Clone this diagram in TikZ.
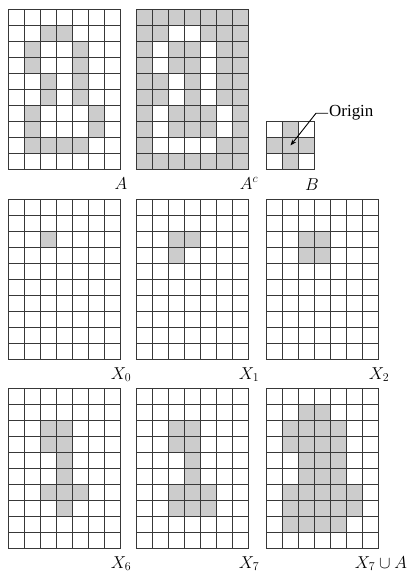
\documentclass[tikz,border=0pt]{standalone}
\usepackage{fontspec}
\setmainfont{Liberation Serif}
\usetikzlibrary{arrows.meta}
\tikzset{
  gridline/.style={draw=black!78, line width=1.4bp},
  lab/.style={anchor=base, inner sep=0pt, font=\fontsize{17}{19}\selectfont},
}
\newcommand\mygrid[7]{% x y cols rows base-color cell-color list
  \begin{scope}[shift={(#1,#2)}]
    \fill[#5] (0,0) rectangle (#3*16,#4*16);
    \foreach \c/\r in {#7} {\fill[#6] (\c*16,\r*16) rectangle ++(16,16);}
    \foreach \i in {0,...,#3} \draw[gridline] (\i*16,0) -- (\i*16,#4*16);
    \foreach \j in {0,...,#4} \draw[gridline] (0,\j*16) -- (#3*16,\j*16);
    \draw[gridline, line cap=rect] (0,0) rectangle (#3*16,#4*16);
  \end{scope}}
\begin{document}
\begin{tikzpicture}[x=1bp,y=-1bp]
\useasboundingbox (0,0) rectangle (408,575);
% row 1
\mygrid{8.5}{9.5}{7}{10}{white}{gray!40}{2/1,3/1,1/2,4/2,1/3,4/3,2/4,4/4,2/5,4/5,1/6,5/6,1/7,5/7,1/8,2/8,3/8,4/8}
\mygrid{136.5}{9.5}{7}{10}{gray!40}{white}{2/1,3/1,1/2,4/2,1/3,4/3,2/4,4/4,2/5,4/5,1/6,5/6,1/7,5/7,1/8,2/8,3/8,4/8}
\mygrid{266.5}{121.5}{3}{3}{white}{gray!40}{1/0,0/1,1/1,2/1,1/2}
\node[lab] (lA) at (121,189) {$A$};
\node[lab] (lAc) at (249,189) {$A^c$};
\node[lab] (lB) at (312,190) {$B$};
\node[anchor=base west, inner sep=1pt, font=\fontsize{17}{19}\selectfont] (origin) at (328,117) {Origin};
\coordinate (bc) at (290.5,145.5);
\draw[line width=0.9pt, -{Stealth[length=6pt,width=4.5pt]}] (origin.west) -- ++(-12,0) -- (bc);
% row 2
\mygrid{8.5}{199.5}{7}{10}{white}{gray!40}{2/2}
\mygrid{136.5}{199.5}{7}{10}{white}{gray!40}{2/2,3/2,2/3}
\mygrid{266.5}{199.5}{7}{10}{white}{gray!40}{2/2,3/2,2/3,3/3}
\node[lab] (lX0) at (121,379) {$X_0$};
\node[lab] (lX1) at (249,379) {$X_1$};
\node[lab] (lX2) at (379,379) {$X_2$};
% row 3
\mygrid{8.5}{388.5}{7}{10}{white}{gray!40}{2/2,3/2,2/3,3/3,3/4,3/5,2/6,3/6,4/6,3/7}
\mygrid{136.5}{388.5}{7}{10}{white}{gray!40}{2/2,3/2,2/3,3/3,3/4,3/5,2/6,3/6,4/6,2/7,3/7,4/7}
\mygrid{266.5}{388.5}{7}{10}{white}{gray!40}{2/1,3/1,1/2,2/2,3/2,4/2,1/3,2/3,3/3,4/3,2/4,3/4,4/4,2/5,3/5,4/5,1/6,2/6,3/6,4/6,5/6,1/7,2/7,3/7,4/7,5/7,1/8,2/8,3/8,4/8}
\node[lab] (lX6) at (121,568) {$X_6$};
\node[lab] (lX7) at (249,568) {$X_7$};
\node[lab] (lX7A) at (381,568) {$X_7\cup A$};
\end{tikzpicture}
\end{document}
